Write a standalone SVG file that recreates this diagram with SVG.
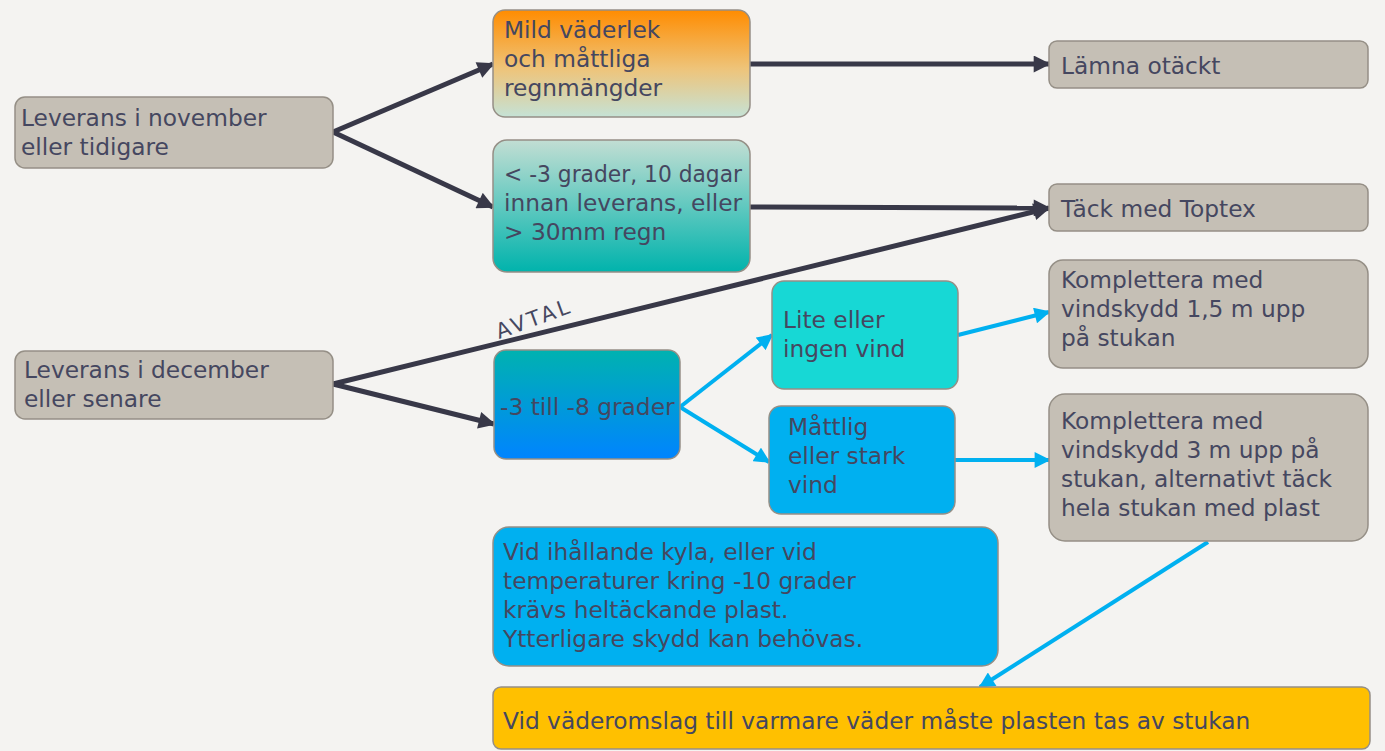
<svg xmlns="http://www.w3.org/2000/svg" width="1385" height="751" viewBox="0 0 1385 751">
<style>
.n{stroke:#958f86;stroke-width:1.5}
.g{fill:#c5bfb5}
.t{font-family:"DejaVu Sans","Open Sans",sans-serif;font-size:23.3px;fill:#454760}
.d{fill:none;stroke:#383848;stroke-width:5}
.c{fill:none;stroke:#00b0f0;stroke-width:4}
</style>
<defs>
<linearGradient id="gB" x1="0" y1="0" x2="0" y2="1"><stop offset="0" stop-color="#ff8c00"/><stop offset="0.55" stop-color="#eec47a"/><stop offset="1" stop-color="#c5e2d6"/></linearGradient>
<linearGradient id="gC" x1="0" y1="0" x2="0" y2="1"><stop offset="0" stop-color="#c2ded3"/><stop offset="1" stop-color="#00b3ac"/></linearGradient>
<linearGradient id="gG" x1="0" y1="0" x2="0" y2="1"><stop offset="0" stop-color="#00b2b0"/><stop offset="1" stop-color="#0084ff"/></linearGradient>
<marker id="ad" viewBox="0 0 10 10" refX="9" refY="5" markerWidth="3.6" markerHeight="3.4" orient="auto" markerUnits="strokeWidth"><path d="M0,0L10,5L0,10z" fill="#383848"/></marker>
<marker id="ac" viewBox="0 0 10 10" refX="9" refY="5" markerWidth="4.2" markerHeight="4" orient="auto" markerUnits="strokeWidth"><path d="M0,0L10,5L0,10z" fill="#00b0f0"/></marker>
</defs>
<rect width="1385" height="751" fill="#f4f3f1"/>
<g id="connectors">
<path class="d" d="M333,132L493,64" marker-end="url(#ad)"/>
<path class="d" d="M333,132L493,207" marker-end="url(#ad)"/>
<path class="d" d="M750,64L1049,64" marker-end="url(#ad)"/>
<path class="d" d="M750,207L1049,208" marker-end="url(#ad)"/>
<path class="d" d="M333,384L1049,208" marker-end="url(#ad)"/>
<path class="d" d="M333,384L494,424" marker-end="url(#ad)"/>
<path class="c" d="M680,407L772,335" marker-end="url(#ac)"/>
<path class="c" d="M680,407L769,462" marker-end="url(#ac)"/>
<path class="c" d="M958,335L1049,312" marker-end="url(#ac)"/>
<path class="c" d="M955,460L1049,460" marker-end="url(#ac)"/>
<path class="c" d="M1208,542L980,687" marker-end="url(#ac)"/>
<text class="t" transform="translate(499,339) rotate(-20)" style="font-size:21px;letter-spacing:3px">AVTAL</text>
</g>
<g id="nodeA"><rect class="n g" x="15" y="97" width="318" height="71" rx="10"/><text class="t" x="21" y="126">Leverans i november</text><text class="t" x="21" y="155">eller tidigare</text></g>
<g id="nodeB"><rect class="n" fill="url(#gB)" x="493" y="10" width="257" height="107" rx="12"/><text class="t" x="504" y="38">Mild väderlek</text><text class="t" x="504" y="67">och måttliga</text><text class="t" x="504" y="96">regnmängder</text></g>
<g id="nodeC"><rect class="n" fill="url(#gC)" x="493" y="140" width="257" height="132" rx="14"/><text class="t" x="504" y="182" textLength="238" lengthAdjust="spacingAndGlyphs">&lt; -3 grader, 10 dagar</text><text class="t" x="504" y="211">innan leverans, eller</text><text class="t" x="504" y="240">&gt; 30mm regn</text></g>
<g id="nodeD"><rect class="n g" x="1049" y="41" width="319" height="47" rx="8"/><text class="t" x="1061" y="74">Lämna otäckt</text></g>
<g id="nodeE"><rect class="n g" x="1049" y="184" width="319" height="47" rx="8"/><text class="t" x="1061" y="217">Täck med Toptex</text></g>
<g id="nodeF"><rect class="n g" x="15" y="351" width="318" height="68" rx="10"/><text class="t" x="24" y="378">Leverans i december</text><text class="t" x="24" y="407">eller senare</text></g>
<g id="nodeG"><rect class="n" fill="url(#gG)" x="494" y="350" width="186" height="109" rx="12"/><text class="t" x="500" y="415">-3 till -8 grader</text></g>
<g id="nodeH"><rect class="n" fill="#17d8d5" x="772" y="281" width="186" height="108" rx="12"/><text class="t" x="783" y="328">Lite eller</text><text class="t" x="783" y="357">ingen vind</text></g>
<g id="nodeI"><rect class="n" fill="#00b0f0" x="769" y="406" width="186" height="108" rx="12"/><text class="t" x="788" y="435">Måttlig</text><text class="t" x="788" y="464">eller stark</text><text class="t" x="788" y="493">vind</text></g>
<g id="nodeJ"><rect class="n g" x="1049" y="260" width="319" height="108" rx="14"/><text class="t" x="1061" y="288">Komplettera med</text><text class="t" x="1061" y="317">vindskydd 1,5 m upp</text><text class="t" x="1061" y="346">på stukan</text></g>
<g id="nodeK"><rect class="n g" x="1049" y="394" width="319" height="147" rx="16"/><text class="t" x="1061" y="429">Komplettera med</text><text class="t" x="1061" y="458">vindskydd 3 m upp på</text><text class="t" x="1061" y="487">stukan, alternativt täck</text><text class="t" x="1061" y="516">hela stukan med plast</text></g>
<g id="nodeL"><rect class="n" fill="#00b0f0" x="493" y="527" width="505" height="139" rx="16"/><text class="t" x="503" y="560">Vid ihållande kyla, eller vid</text><text class="t" x="503" y="589">temperaturer kring -10 grader</text><text class="t" x="503" y="618">krävs heltäckande plast.</text><text class="t" x="503" y="647">Ytterligare skydd kan behövas.</text></g>
<g id="nodeM"><rect class="n" fill="#ffc000" x="493" y="687" width="877" height="62" rx="8"/><text class="t" x="503" y="729">Vid väderomslag till varmare väder måste plasten tas av stukan</text></g>
</svg>
